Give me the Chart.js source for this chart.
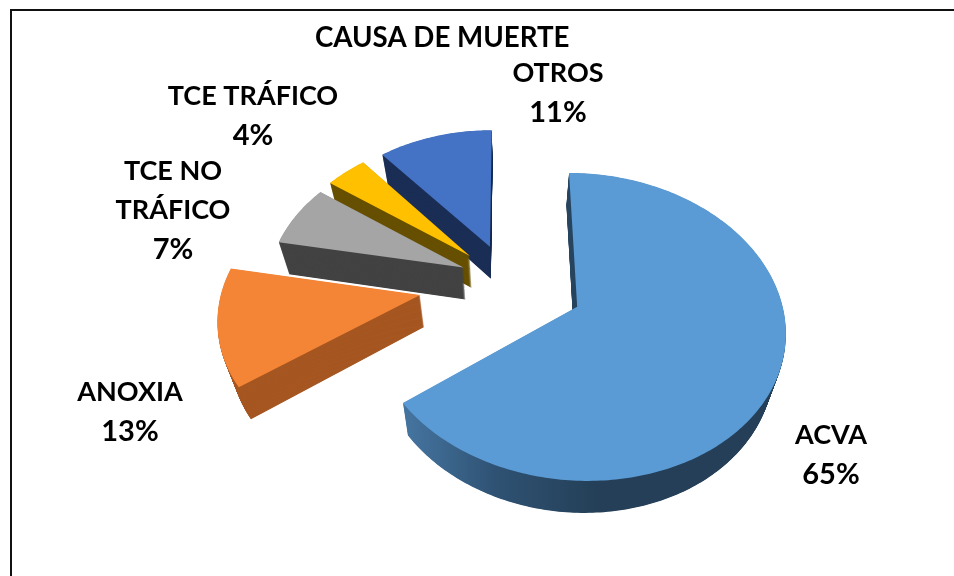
<!DOCTYPE html>
<html><head><meta charset="utf-8">
<style>html,body{margin:0;padding:0;background:#fff;overflow:hidden}canvas{display:block}</style>
<script src="https://cdn.jsdelivr.net/npm/chart.js@4"></script>
</head><body><div style="width:954px;height:576px"><canvas id="c" width="954" height="576"></canvas></div>
<script>
const titleText = 'CAUSA DE MUERTE';
const categories = ['ACVA', 'ANOXIA', 'TCE NO TRÁFICO', 'TCE TRÁFICO', 'OTROS'];
const values = [65, 13, 7, 4, 11];
const labelLines = [['ACVA'], ['ANOXIA'], ['TCE NO', 'TRÁFICO'], ['TCE TRÁFICO'], ['OTROS']];
const topColors = ['#5B9BD5', '#F58536', '#A5A5A5', '#FFC000', '#4472C4'];
const wallColors = ['#243F57', '#A65722', '#434343', '#675000', '#1A2E55'];
const explode = [77, 88, 48, 52, 52];
const sliceScale = [0.985, 0.965, 0.96, 0.945, 0.945];
const labelAnchors = [[831, 435], [130, 392], [173, 171], [253, 96], [558, 73]];

const FONT = 'bold 27px Lato';
const PCT_FONT = 'bold 29px Lato';
const view = {cx: 507, cy: 281, q: 0.72, p: 0.13, depth: 32, vx: 510, conv: 0.045};

function project(X, Y, R) {
  const k = 1 / (1 - view.p * Y / R);
  return [view.cx + X * k, view.cy + Y * view.q * k];
}
function slicePoints(el, scale) {
  const R = el.outerRadius, off = el.options.offset;
  const r = R * scale;
  const mid = (el.startAngle + el.endAngle) / 2;
  const ox = Math.cos(mid) * off, oy = Math.sin(mid) * off;
  const pts = [project(ox, oy, R)];
  const n = Math.ceil((el.endAngle - el.startAngle) * 60);
  for (let i = 0; i <= n; i++) {
    const a = el.startAngle + (el.endAngle - el.startAngle) * i / n;
    pts.push(project(ox + Math.cos(a) * r, oy + Math.sin(a) * r, R));
  }
  return pts;
}
function fillPoly(ctx, pts, d, fill) {
  const f = d / view.depth * view.conv;
  ctx.beginPath();
  pts.forEach((p, i) => {
    const x = p[0] + (view.vx - p[0]) * f, y = p[1] + d;
    i ? ctx.lineTo(x, y) : ctx.moveTo(x, y);
  });
  ctx.closePath();
  ctx.fillStyle = fill;
  ctx.fill();
}

const pie3d = {
  id: 'pie3d',
  beforeDraw(chart) {
    const ctx = chart.ctx;
    ctx.save();
    ctx.fillStyle = '#fff';
    ctx.fillRect(0, 0, chart.width, chart.height);
    ctx.fillStyle = '#111';
    ctx.fillRect(10, 9, chart.width - 10, 2);
    ctx.fillRect(10, 9, 2, chart.height - 9);
    ctx.restore();
  },
  beforeDatasetDraw(chart, args) {
    const ctx = chart.ctx;
    const arcs = args.meta.data;
    ctx.save();
    [4, 3, 2, 1, 0].forEach(i => {
      const pts = slicePoints(arcs[i], sliceScale[i]);
      let wall = wallColors[i];
      if (i === 0) {
        const g = ctx.createLinearGradient(410, 0, 600, 0);
        g.addColorStop(0, '#44739E');
        g.addColorStop(0.45, '#2F5273');
        g.addColorStop(1, wallColors[0]);
        wall = g;
      }
      for (let d = view.depth; d > 0; d -= 0.5) fillPoly(ctx, pts, d, wall);
      fillPoly(ctx, pts, 0, topColors[i]);
    });
    ctx.restore();
    return false;
  },
  afterDraw(chart) {
    const ctx = chart.ctx;
    const total = values.reduce((a, b) => a + b, 0);
    ctx.save();
    ctx.fillStyle = '#000';
    ctx.textAlign = 'center';
    ctx.textBaseline = 'middle';
    values.forEach((v, i) => {
      const [x, y] = labelAnchors[i];
      const names = labelLines[i];
      ctx.font = FONT;
      names.forEach((t, j) => ctx.fillText(t, x, y + j * 39.3));
      ctx.font = PCT_FONT;
      ctx.fillText(Math.round(v / total * 100) + '%', x, y + names.length * 39.3);
    });
    ctx.restore();
  }
};

new Chart(document.getElementById('c'), {
  type: 'pie',
  data: {
    labels: categories,
    datasets: [{data: values, backgroundColor: topColors, offset: explode, borderWidth: 0}]
  },
  options: {
    responsive: false,
    animation: false,
    rotation: 0,
    radius: 204,
    layout: {padding: {left: 315}},
    plugins: {
      legend: {display: false},
      tooltip: {enabled: false},
      title: {display: true, text: titleText, align: 'start', color: '#000',
        font: {family: 'Lato', size: 27.7, weight: 'bold', lineHeight: 1.2},
        padding: {top: 21, bottom: 0}}
    }
  },
  plugins: [pie3d]
});
</script></body></html>
